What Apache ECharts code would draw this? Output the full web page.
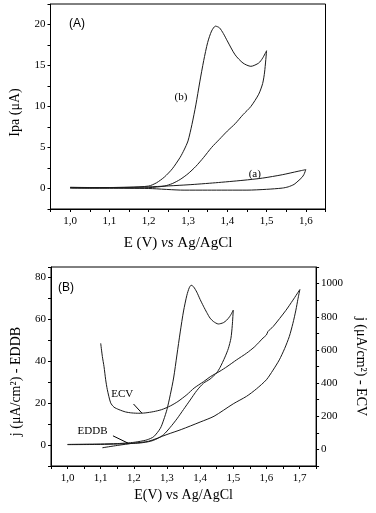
<!DOCTYPE html>
<html>
<head>
<meta charset="utf-8">
<script src="https://cdn.jsdelivr.net/npm/echarts@6/dist/echarts.min.js"></script>
<style>
  html, body { margin: 0; padding: 0; background: #fff; }
  #chart { width: 376px; height: 513px; }
</style>
</head>
<body>
<div id="chart"></div>
<script>
// ---- panel (A): anodic current vs potential ----
// curve (b), forward scan to 1.5 V then back
var bE = [1.00, 1.05, 1.10, 1.15, 1.20, 1.22, 1.24, 1.26, 1.28, 1.29, 1.30, 1.31, 1.32, 1.33, 1.34, 1.35, 1.36, 1.37, 1.38, 1.39, 1.40, 1.42, 1.44, 1.46, 1.48, 1.49, 1.50,
  1.495, 1.49, 1.48, 1.46, 1.44, 1.42, 1.40, 1.38, 1.36, 1.34, 1.32, 1.30, 1.28, 1.26, 1.24, 1.20, 1.15, 1.10, 1.05, 1.00];
var bI = [0.15, 0.12, 0.12, 0.15, 0.3, 0.7, 1.4, 2.4, 3.8, 4.7, 5.8, 7.8, 10.2, 13.0, 15.6, 17.8, 19.2, 19.8, 19.6, 18.9, 18.0, 16.3, 15.3, 14.9, 15.3, 15.9, 16.8,
  14.2, 12.8, 11.5, 10.0, 9.0, 7.9, 7.0, 6.0, 5.0, 3.8, 2.7, 1.8, 1.1, 0.6, 0.3, 0.1, 0.05, 0.05, 0.05, 0.1];
// curve (a), scan to 1.6 V then back
var aE = [1.00, 1.10, 1.20, 1.30, 1.37, 1.44, 1.49, 1.54, 1.58, 1.60,
  1.595, 1.59, 1.58, 1.57, 1.555, 1.54, 1.50, 1.45, 1.35, 1.29, 1.20, 1.10, 1.00];
var aI = [0.1, 0.12, 0.2, 0.45, 0.7, 1.0, 1.27, 1.68, 2.1, 2.3,
  1.7, 1.35, 0.9, 0.5, 0.2, 0.05, -0.1, -0.2, -0.2, -0.2, 0, 0.05, 0.05];

// ---- panel (B): current density, EDDB (left axis) and ECV (right axis) ----
var eddbE = [1.00, 1.05, 1.10, 1.15, 1.18, 1.20, 1.22, 1.24, 1.26, 1.28, 1.29, 1.30, 1.31, 1.32, 1.33, 1.34, 1.35, 1.36, 1.367, 1.373, 1.38, 1.39, 1.40, 1.41, 1.42, 1.43, 1.44, 1.455, 1.47, 1.48, 1.49, 1.50,
  1.497, 1.493, 1.485, 1.475, 1.46, 1.45, 1.43, 1.41, 1.39, 1.37, 1.35, 1.33, 1.31, 1.29, 1.27, 1.25, 1.22, 1.20, 1.15, 1.10, 1.00];
var eddbJ = [0.3, 0.4, 0.5, 0.7, 1.0, 1.3, 1.8, 2.5, 4.0, 8, 12, 17, 24, 32, 43, 54, 64, 71.5, 75, 76.3, 75.6, 73, 69.5, 66.3, 63.3, 60.6, 59, 57.8, 58.4, 59.6, 61.5, 64.4,
  57, 51, 46, 42, 37, 34.5, 31.5, 29.5, 26, 21.5, 17, 12.5, 8.5, 5.0, 3.0, 1.8, 1.0, 0.8, 0.5, 0.3, 0.2];
var ecvE = [1.100, 1.105, 1.110, 1.115, 1.120, 1.130, 1.140, 1.155, 1.175, 1.194, 1.215, 1.234, 1.26, 1.284, 1.31, 1.333, 1.36, 1.382, 1.41, 1.432, 1.46, 1.481, 1.51, 1.54, 1.565, 1.59, 1.600, 1.605, 1.62, 1.659, 1.68, 1.701,
  1.695, 1.689, 1.68, 1.669, 1.655, 1.639, 1.62, 1.60, 1.57, 1.54, 1.50, 1.442, 1.40, 1.343, 1.30, 1.244, 1.20, 1.15, 1.105];
var ecvJ = [640, 560, 499, 420, 360, 281, 255, 240, 226, 220, 218, 220, 228, 240, 262, 289, 330, 370, 408, 440, 472, 499, 540, 580, 620, 672, 690, 712, 740, 839, 900, 964,
  905, 840, 760, 680, 608, 540, 478, 420, 365, 320, 275, 200, 165, 120, 90, 49, 38, 24, 10];

// tick labels
var xTicksA = [1.0, 1.1, 1.2, 1.3, 1.4, 1.5, 1.6];
var yTicksA = [0, 5, 10, 15, 20];
var xTicksB = [1.0, 1.1, 1.2, 1.3, 1.4, 1.5, 1.6, 1.7];
var yTicksB = [0, 20, 40, 60, 80];
var y2TicksB = [0, 200, 400, 600, 800, 1000];

function zip(xs, ys) {
  var out = [];
  for (var i = 0; i < xs.length; i++) out.push([xs[i], ys[i]]);
  return out;
}
function comma(v) {
  return v.toFixed(1).replace('.', ',');
}
function plain(v) {
  return String(v);
}

var serif = "'Liberation Serif', 'Times New Roman', serif";
var sans = "'Liberation Sans', Arial, sans-serif";
var ink = '#1a1a1a';

function xAxisCfg(grid, min, max, ticks, name, gap, size, pad) {
  return {
    gridIndex: grid, type: 'value', min: min, max: max, interval: 0.05,
    axisLine: { onZero: false, lineStyle: { color: '#000', width: 1 } },
    axisTick: { length: 3, lineStyle: { color: '#000' } },
    axisLabel: { customValues: ticks, formatter: comma, fontFamily: serif, fontSize: 11, color: '#000', margin: 7 },
    splitLine: { show: false },
    name: name, nameLocation: 'middle', nameGap: gap,
    nameTextStyle: {
      color: '#000', fontFamily: serif, fontSize: size, padding: pad,
      rich: {
        n: { fontFamily: serif, fontSize: size, color: '#000' },
        i: { fontFamily: serif, fontSize: size, fontStyle: 'italic', color: '#000' }
      }
    }
  };
}
function yAxisCfg(grid, min, max, step, ticks, name, gap, pos, pad) {
  return {
    gridIndex: grid, type: 'value', min: min, max: max, interval: step, position: pos,
    axisLine: { show: true, onZero: false, lineStyle: { color: '#000', width: 1 } },
    axisTick: { show: true, length: 3, lineStyle: { color: '#000' } },
    axisLabel: { customValues: ticks, formatter: plain, fontFamily: serif, fontSize: 11, color: '#000', margin: 5 },
    splitLine: { show: false },
    name: name, nameLocation: 'middle', nameGap: gap,
    nameRotate: pos === 'right' ? -90 : 90,
    nameTextStyle: { color: '#000', fontFamily: serif, fontSize: 14, padding: pad }
  };
}
function textMark(x, y, txt) {
  return {
    coord: [x, y], symbol: 'circle', symbolSize: 1, itemStyle: { color: 'rgba(0,0,0,0)' },
    label: { show: true, position: 'inside', formatter: txt, color: '#000', fontFamily: serif, fontSize: 11 }
  };
}
var lineBase = { type: 'line', showSymbol: false, smooth: 0.25, lineStyle: { color: ink, width: 1 }, silent: true };

var chart = echarts.init(document.getElementById('chart'));
var option = {
  animation: false,
  backgroundColor: '#fff',
  title: [
    { text: '(A)', left: 69, top: 18, padding: 0, textStyle: { fontFamily: sans, fontSize: 12, fontWeight: 'normal', color: '#000' } },
    { text: '(B)', left: 58, top: 282, padding: 0, textStyle: { fontFamily: sans, fontSize: 12, fontWeight: 'normal', color: '#000' } }
  ],
  grid: [
    { left: 50.5, top: 4, width: 275, height: 205, show: true, borderColor: '#000', borderWidth: 1, backgroundColor: 'transparent' },
    { left: 51, top: 267, width: 270.5, height: 199, show: true, borderColor: '#000', borderWidth: 1, backgroundColor: 'transparent' }
  ],
  xAxis: [
    xAxisCfg(0, 0.95, 1.65, xTicksA, '{n|E (V) }{i|vs}{n| Ag/AgCl}', 27, 15, [0, 20, 0, 0]),
    xAxisCfg(1, 0.95, 1.75, xTicksB, 'E(V) vs Ag/AgCl', 22, 14, [0, 0, 0, 0])
  ],
  yAxis: [
    yAxisCfg(0, -2.5, 22.5, 2.5, yTicksA, 'Ipa (μA)', 28, 'left', [0, 12, 0, 0]),
    yAxisCfg(1, -10, 85, 10, yTicksB, 'j (μA/cm²) - EDDB', 28, 'left', [0, 30, 0, 0]),
    yAxisCfg(1, -100, 1100, 100, y2TicksB, 'j (μA/cm²) - ECV', 33, 'right', [0, 0, 0, 0])
  ],
  series: [
    Object.assign({}, lineBase, {
      name: 'b', xAxisIndex: 0, yAxisIndex: 0, data: zip(bE, bI),
      markPoint: { silent: true, data: [textMark(1.282, 11.1, '(b)')] }
    }),
    Object.assign({}, lineBase, {
      name: 'a', xAxisIndex: 0, yAxisIndex: 0, data: zip(aE, aI),
      markPoint: { silent: true, data: [textMark(1.47, 1.7, '(a)')] }
    }),
    Object.assign({}, lineBase, {
      name: 'EDDB', xAxisIndex: 1, yAxisIndex: 1, data: zip(eddbE, eddbJ),
      markPoint: { silent: true, data: [textMark(1.0755, 6.8, 'EDDB'), textMark(1.165, 24.5, 'ECV')] },
      markLine: {
        silent: true, symbol: ['none', 'arrow'], symbolSize: [0, 6],
        lineStyle: { color: '#000', width: 1, type: 'solid' }, label: { show: false },
        data: [
          [{ coord: [1.184, 0.8] }, { coord: [1.137, 4.4] }],
          [{ coord: [1.224, 15.3] }, { coord: [1.199, 19.6] }]
        ]
      }
    }),
    Object.assign({}, lineBase, {
      name: 'ECV', xAxisIndex: 1, yAxisIndex: 2, data: zip(ecvE, ecvJ)
    })
  ]
};
chart.setOption(option);
</script>
</body>
</html>
